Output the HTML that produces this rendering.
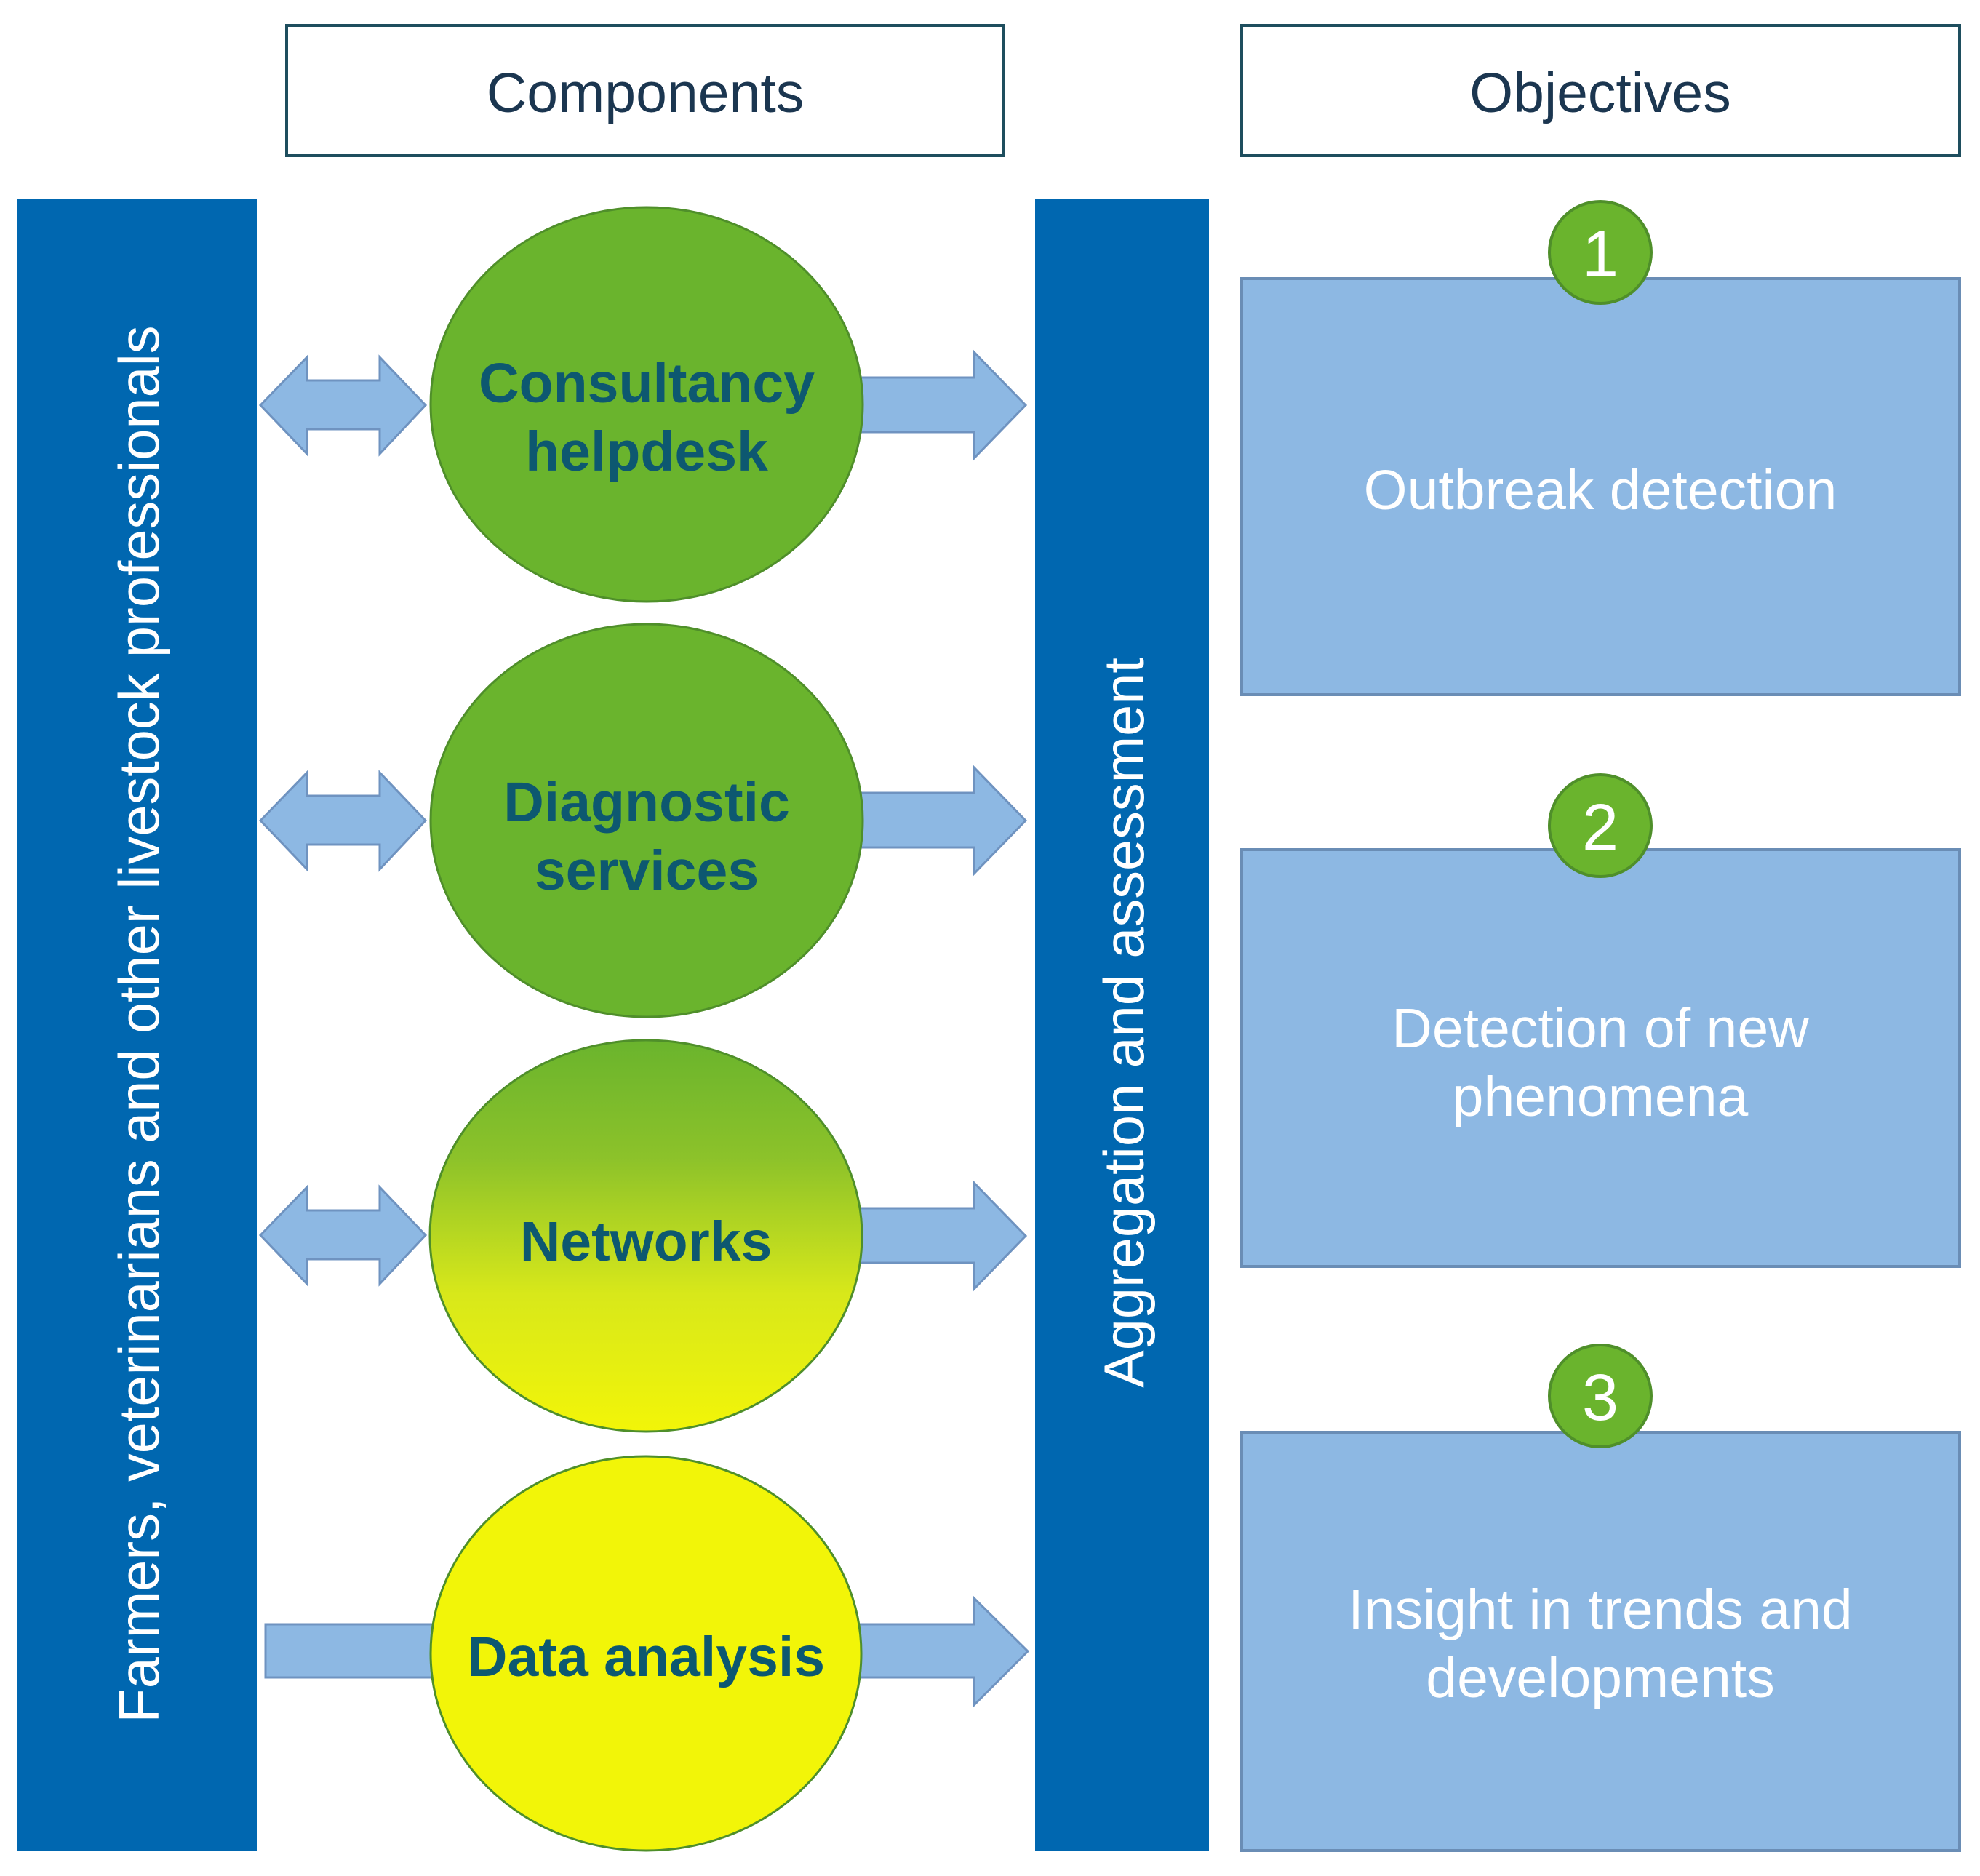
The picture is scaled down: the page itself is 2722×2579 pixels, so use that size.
<!DOCTYPE html>
<html><head><meta charset="utf-8"><style>html,body{margin:0;padding:0;background:#fff}svg{display:block}</style></head>
<body>
<svg width="2722" height="2579" viewBox="0 0 2722 2579" xmlns="http://www.w3.org/2000/svg" font-family="Liberation Sans, Arial, sans-serif">
<defs>
<linearGradient id="g3" x1="0" y1="0" x2="0" y2="1">
<stop offset="0" stop-color="#6ab42d"/><stop offset="0.3" stop-color="#8cc22a"/><stop offset="0.65" stop-color="#d8e81a"/><stop offset="1" stop-color="#f2f508"/>
</linearGradient>
</defs>
<rect x="394" y="35" width="986" height="179" fill="#fff" stroke="#1e4e5e" stroke-width="4"/>
<text x="887" y="154" font-size="77" fill="#1b3650" text-anchor="middle">Components</text>
<rect x="1707" y="35" width="987" height="179" fill="#fff" stroke="#1e4e5e" stroke-width="4"/>
<text x="2200" y="154" font-size="77" fill="#1b3650" text-anchor="middle">Objectives</text>
<rect x="24" y="273" width="329" height="2271" fill="#0067b0"/>
<text transform="translate(218,1408) rotate(-90)" font-size="77.5" fill="#fff" text-anchor="middle">Farmers, veterinarians and other livestock professionals</text>
<rect x="1423" y="273" width="239" height="2271" fill="#0067b0"/>
<text transform="translate(1572,1406) rotate(-90)" font-size="77.5" fill="#fff" text-anchor="middle">Aggregation and assessment</text>
<g fill="#8db8e3" stroke="#6f93c0" stroke-width="3">
<path d="M358,557 L422,491 L422,523 L522,523 L522,491 L585,557 L522,624 L522,590 L422,590 L422,624 Z"/>
<path d="M358,1128 L422,1062 L422,1094 L522,1094 L522,1062 L585,1128 L522,1195 L522,1161 L422,1161 L422,1195 Z"/>
<path d="M358,1698 L422,1632 L422,1664 L522,1664 L522,1632 L585,1698 L522,1765 L522,1731 L422,1731 L422,1765 Z"/>
<rect x="365" y="2233" width="240" height="73"/>
<path d="M1170,519 L1339,519 L1339,484 L1410,557 L1339,630 L1339,594 L1170,594 Z"/>
<path d="M1170,1090 L1339,1090 L1339,1055 L1410,1128 L1339,1201 L1339,1165 L1170,1165 Z"/>
<path d="M1170,1661 L1339,1661 L1339,1626 L1410,1699 L1339,1772 L1339,1736 L1170,1736 Z"/>
<path d="M1170,2233 L1339,2233 L1339,2197 L1413,2270 L1339,2344 L1339,2306 L1170,2306 Z"/>
</g>
<g stroke="#4f8f2a" stroke-width="3">
<ellipse cx="889" cy="556" rx="297" ry="271" fill="#6ab42d"/>
<ellipse cx="889" cy="1128" rx="297" ry="270" fill="#6ab42d"/>
<ellipse cx="888" cy="1699" rx="297" ry="269" fill="url(#g3)"/>
<ellipse cx="888" cy="2273" rx="296" ry="271" fill="#f2f508"/>
</g>
<g font-size="77" font-weight="bold" fill="#0d5870" text-anchor="middle">
<text x="889" y="553">Consultancy</text>
<text x="889" y="647">helpdesk</text>
<text x="889" y="1129">Diagnostic</text>
<text x="889" y="1223">services</text>
<text x="888" y="1733">Networks</text>
<text x="888" y="2304">Data analysis</text>
</g>
<g fill="#8db8e3" stroke="#6a8db5" stroke-width="4">
<rect x="1707" y="383" width="987" height="572"/>
<rect x="1707" y="1168" width="987" height="573"/>
<rect x="1707" y="1969" width="987" height="575"/>
</g>
<g fill="#fff" font-size="77" text-anchor="middle">
<text x="2200" y="700">Outbreak detection</text>
<text x="2200" y="1440">Detection of new</text>
<text x="2200" y="1534">phenomena</text>
<text x="2200" y="2239">Insight in trends and</text>
<text x="2200" y="2333">developments</text>
</g>
<g fill="#6ab42d" stroke="#4f8f2a" stroke-width="4">
<circle cx="2200" cy="347" r="70"/>
<circle cx="2200" cy="1135" r="70"/>
<circle cx="2200" cy="1919" r="70"/>
</g>
<g fill="#fff" font-size="90" text-anchor="middle">
<text x="2200" y="380">1</text>
<text x="2200" y="1168">2</text>
<text x="2200" y="1952">3</text>
</g>
</svg>
</body></html>
